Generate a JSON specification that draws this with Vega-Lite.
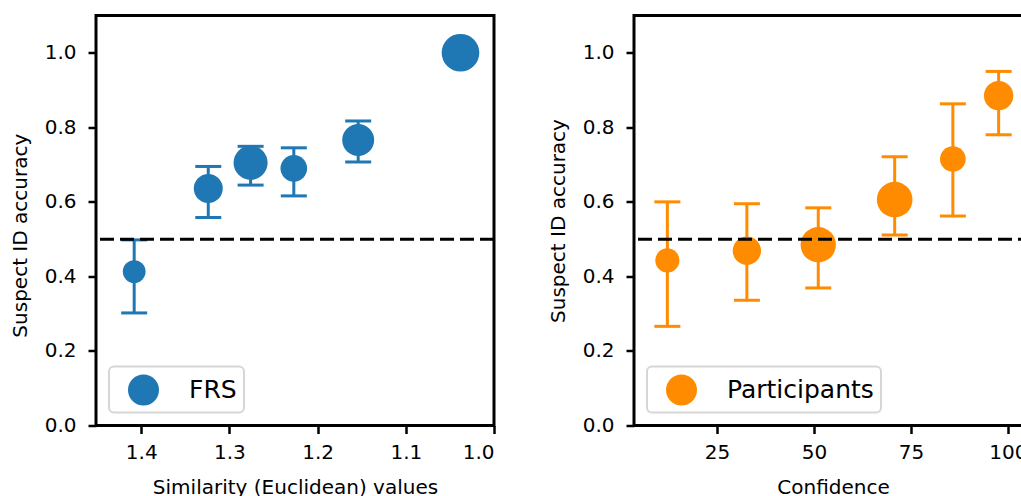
{
  "$schema": "https://vega.github.io/schema/vega-lite/v6.json",
  "background": "white",
  "padding": {"left": 8, "top": 13.5, "right": 0, "bottom": 0},
  "config": {
    "font": "DejaVu Sans",
    "view": {"stroke": "black", "strokeWidth": 3},
    "axis": {
      "grid": false, "domain": false,
      "labelFont": "DejaVu Sans", "labelFontSize": 20, "labelColor": "black",
      "tickColor": "black", "tickWidth": 2.5, "tickSize": 8,
      "titleFont": "DejaVu Sans", "titleFontSize": 20, "titleFontWeight": "normal", "titleColor": "black"
    },
    "axisX": {"labelPadding": 9, "titlePadding": 15},
    "axisY": {"labelPadding": 12, "titlePadding": 14},
    "legend": {"strokeWidth": 2}
  },
  "datasets": {
    "frs": [
      {"x": 1.408, "acc": 0.413, "lo": 0.302, "hi": 0.498, "n": 52, "group": "FRS"},
      {"x": 1.324, "acc": 0.636, "lo": 0.558, "hi": 0.695, "n": 84, "group": "FRS"},
      {"x": 1.276, "acc": 0.705, "lo": 0.645, "hi": 0.749, "n": 116, "group": "FRS"},
      {"x": 1.227, "acc": 0.690, "lo": 0.616, "hi": 0.745, "n": 71, "group": "FRS"},
      {"x": 1.154, "acc": 0.766, "lo": 0.707, "hi": 0.817, "n": 102, "group": "FRS"},
      {"x": 1.038, "acc": 1.0, "lo": 1.0, "hi": 1.0, "n": 142, "group": "FRS"}
    ],
    "part": [
      {"x": 12.2, "acc": 0.443, "lo": 0.266, "hi": 0.600, "n": 58, "group": "Participants"},
      {"x": 32.7, "acc": 0.469, "lo": 0.336, "hi": 0.595, "n": 80, "group": "Participants"},
      {"x": 51.1, "acc": 0.485, "lo": 0.369, "hi": 0.584, "n": 125, "group": "Participants"},
      {"x": 70.8, "acc": 0.606, "lo": 0.511, "hi": 0.721, "n": 127, "group": "Participants"},
      {"x": 85.8, "acc": 0.715, "lo": 0.562, "hi": 0.863, "n": 66, "group": "Participants"},
      {"x": 97.6, "acc": 0.885, "lo": 0.780, "hi": 0.950, "n": 86, "group": "Participants"}
    ],
    "chance": [{"chance": 0.5}]
  },
  "spacing": 140,
  "bounds": "flush",
  "hconcat": [
    {
      "width": 398, "height": 410,
      "layer": [
        {
          "data": {"name": "frs"},
          "mark": {"type": "errorbar", "color": "#1f77b4", "opacity": 1, "thickness": 3, "ticks": {"size": 26, "thickness": 3, "opacity": 1}, "rule": {"opacity": 1}},
          "encoding": {
            "x": {"field": "x", "type": "quantitative", "title": "Similarity (Euclidean) values",
                  "scale": {"domain": [1.0, 1.4513], "reverse": true, "nice": false, "zero": false},
                  "axis": {"values": [1.0, 1.1, 1.2, 1.3, 1.4], "format": ".1f"}},
            "y": {"field": "lo", "type": "quantitative", "title": "Suspect ID accuracy",
                  "scale": {"domain": [0, 1.1], "nice": false},
                  "axis": {"values": [0, 0.2, 0.4, 0.6, 0.8, 1.0], "format": ".1f", "titleY": 219.7}},
            "y2": {"field": "hi"}
          }
        },
        {
          "data": {"name": "frs"},
          "mark": {"type": "circle", "opacity": 1},
          "encoding": {
            "x": {"field": "x", "type": "quantitative", "title": "Similarity (Euclidean) values"},
            "y": {"field": "acc", "type": "quantitative", "title": "Suspect ID accuracy"},
            "size": {"field": "n", "type": "quantitative", "scale": {"type": "linear", "domain": [0, 150], "range": [0, 1500]}, "legend": null},
            "color": {"field": "group", "type": "nominal",
                      "scale": {"domain": ["FRS"], "range": ["#1f77b4"]},
                      "legend": {"title": null, "orient": "bottom-left", "offset": 13, "symbolSize": 961, "symbolType": "circle",
                                 "labelFont": "DejaVu Sans", "labelFontSize": 25, "labelColor": "black", "labelLimit": 400,
                                 "padding": 7, "symbolOffset": 11, "labelOffset": 29,
                                 "fillColor": "rgba(255,255,255,0.8)", "strokeColor": "#d6d6d6", "cornerRadius": 5}}
          }
        },
        {
          "data": {"name": "chance"},
          "mark": {"type": "rule", "color": "black", "strokeWidth": 3, "strokeDash": [14, 6]},
          "encoding": {"y": {"field": "chance", "type": "quantitative"}}
        }
      ]
    },
    {
      "width": 398, "height": 410,
      "layer": [
        {
          "data": {"name": "part"},
          "mark": {"type": "errorbar", "color": "#ff8c00", "opacity": 1, "thickness": 3, "ticks": {"size": 26, "thickness": 3, "opacity": 1}, "rule": {"opacity": 1}},
          "encoding": {
            "x": {"field": "x", "type": "quantitative", "title": "Confidence",
                  "scale": {"domain": [3.6, 106.2], "nice": false, "zero": false},
                  "axis": {"values": [25, 50, 75, 100]}},
            "y": {"field": "lo", "type": "quantitative", "title": "Suspect ID accuracy",
                  "scale": {"domain": [0, 1.1], "nice": false},
                  "axis": {"values": [0, 0.2, 0.4, 0.6, 0.8, 1.0], "format": ".1f"}},
            "y2": {"field": "hi"}
          }
        },
        {
          "data": {"name": "part"},
          "mark": {"type": "circle", "opacity": 1},
          "encoding": {
            "x": {"field": "x", "type": "quantitative", "title": "Confidence"},
            "y": {"field": "acc", "type": "quantitative", "title": "Suspect ID accuracy"},
            "size": {"field": "n", "type": "quantitative", "scale": {"type": "linear", "domain": [0, 150], "range": [0, 1500]}, "legend": null},
            "color": {"field": "group", "type": "nominal",
                      "scale": {"domain": ["Participants"], "range": ["#ff8c00"]},
                      "legend": {"title": null, "orient": "bottom-left", "offset": 13, "symbolSize": 961, "symbolType": "circle",
                                 "labelFont": "DejaVu Sans", "labelFontSize": 25, "labelColor": "black", "labelLimit": 400,
                                 "padding": 7, "symbolOffset": 11, "labelOffset": 29,
                                 "fillColor": "rgba(255,255,255,0.8)", "strokeColor": "#d6d6d6", "cornerRadius": 5}}
          }
        },
        {
          "data": {"name": "chance"},
          "mark": {"type": "rule", "color": "black", "strokeWidth": 3, "strokeDash": [14, 6]},
          "encoding": {"y": {"field": "chance", "type": "quantitative"}}
        }
      ]
    }
  ],
  "resolve": {"scale": {"color": "independent", "size": "independent", "x": "independent", "y": "independent"}, "legend": {"color": "independent"}}
}
